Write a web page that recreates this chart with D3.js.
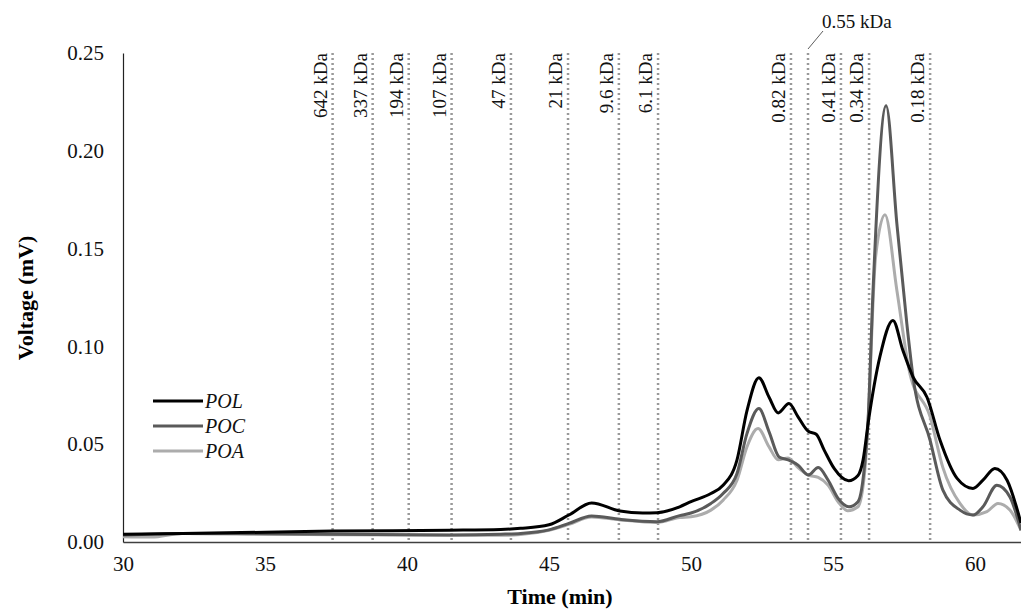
<!DOCTYPE html>
<html>
<head>
<meta charset="utf-8">
<script src="https://cdn.jsdelivr.net/npm/d3@7"></script>
<style>
  body { margin: 0; background: #fff; }
  svg { display: block; font-family: "Liberation Serif", "Times New Roman", serif; }
</style>
</head>
<body>
<div id="chart"></div>
<script>
// Time (min) / Voltage (mV) pairs
const polTime = [30.0, 32.1, 35.0, 37.4, 41.5, 43.3, 44.0, 45.0, 45.7, 46.5, 47.5, 48.3, 48.8, 49.6, 50.0, 50.7, 51.13, 51.62, 51.97, 52.39, 52.75, 53.07, 53.45, 53.77, 54.13, 54.41, 54.69, 55.04, 55.55, 55.88, 56.06, 56.25, 56.65, 57.11, 57.46, 57.82, 58.31, 58.77, 59.37, 59.93, 60.28, 60.7, 61.13, 61.62];
const polVolt = [0.0040, 0.0044, 0.0050, 0.0056, 0.0060, 0.0064, 0.0070, 0.0088, 0.0138, 0.0200, 0.0158, 0.0148, 0.0150, 0.0180, 0.0206, 0.0248, 0.0290, 0.0420, 0.0670, 0.0840, 0.0740, 0.0660, 0.0708, 0.0640, 0.0566, 0.0551, 0.0470, 0.0376, 0.0313, 0.0340, 0.0420, 0.0620, 0.0946, 0.1133, 0.0980, 0.0843, 0.0740, 0.0520, 0.0325, 0.0274, 0.0316, 0.0376, 0.0316, 0.0097];

const pocTime = [30.0, 32.1, 35.0, 37.4, 41.5, 43.3, 44.0, 45.0, 45.7, 46.5, 47.5, 48.8, 49.6, 50.0, 50.7, 51.13, 51.62, 51.97, 52.39, 52.75, 53.1, 53.45, 53.77, 54.13, 54.48, 54.83, 55.18, 55.56, 55.88, 56.13, 56.23, 56.41, 56.87, 57.25, 57.6, 57.82, 58.42, 58.87, 59.47, 59.93, 60.28, 60.77, 61.23, 61.62];
const pocVolt = [0.0036, 0.0044, 0.0042, 0.0040, 0.0036, 0.0040, 0.0044, 0.0062, 0.0095, 0.0133, 0.0116, 0.0104, 0.0135, 0.0148, 0.0197, 0.0248, 0.0350, 0.0554, 0.0682, 0.0563, 0.0435, 0.0418, 0.0393, 0.0342, 0.0381, 0.0316, 0.0223, 0.0180, 0.0206, 0.0420, 0.0607, 0.1286, 0.2230, 0.1626, 0.1116, 0.0843, 0.0520, 0.0265, 0.0163, 0.0138, 0.0180, 0.0290, 0.0230, 0.0060];

const poaTime = [30.0, 31.0, 32.1, 35.0, 37.4, 41.5, 43.3, 44.0, 45.0, 45.7, 46.5, 47.5, 48.8, 49.6, 50.0, 50.7, 51.13, 51.62, 51.97, 52.36, 52.75, 53.07, 53.42, 53.77, 54.13, 54.48, 54.83, 55.18, 55.52, 55.88, 56.13, 56.23, 56.5, 56.83, 57.25, 57.71, 58.42, 58.87, 59.47, 59.93, 60.42, 60.81, 61.23, 61.62];
const poaVolt = [0.0027, 0.0025, 0.0044, 0.0040, 0.0037, 0.0034, 0.0034, 0.0038, 0.0060, 0.0090, 0.0128, 0.0113, 0.0100, 0.0125, 0.0129, 0.0163, 0.0214, 0.0316, 0.0486, 0.0580, 0.0486, 0.0420, 0.0430, 0.0380, 0.0342, 0.0330, 0.0290, 0.0206, 0.0160, 0.0180, 0.0380, 0.0600, 0.1456, 0.1673, 0.1286, 0.0860, 0.0640, 0.0380, 0.0197, 0.0138, 0.0155, 0.0197, 0.0163, 0.0060];

// molecular weight markers
const markerLabels = ['642 kDa', '337 kDa', '194 kDa', '107 kDa', '47 kDa', '21 kDa', '9.6 kDa', '6.1 kDa', '0.82 kDa', '0.55 kDa', '0.41 kDa', '0.34 kDa', '0.18 kDa'];
const markerTimes = [37.38, 38.79, 40.06, 41.57, 43.66, 45.67, 47.46, 48.84, 53.52, 54.12, 55.28, 56.27, 58.42];

const xTicks = [30, 35, 40, 45, 50, 55, 60];
const yTicks = [0, 0.05, 0.10, 0.15, 0.20, 0.25];

const seriesNames = ['POL', 'POC', 'POA'];
const seriesColors = ['#000000', '#5a5a5a', '#acacac'];

const series = [
    polTime.map((t, i) => ({ t, v: polVolt[i] })),
    pocTime.map((t, i) => ({ t, v: pocVolt[i] })),
    poaTime.map((t, i) => ({ t, v: poaVolt[i] }))
];

const width = 1021, height = 609;
const svg = d3.select('#chart').append('svg')
    .attr('width', width)
    .attr('height', height);

const x = d3.scaleLinear().domain([30, 61.62]).range([123, 1021]);
const y = d3.scaleLinear().domain([0, 0.25]).range([542, 53]);

// marker lines
svg.append('g').selectAll('line')
    .data(markerTimes)
    .join('line')
    .attr('x1', d => x(d)).attr('x2', d => x(d))
    .attr('y1', y(0.25)).attr('y2', y(0))
    .attr('stroke', '#999')
    .attr('stroke-width', 2.5)
    .attr('stroke-dasharray', '2,3');

// marker labels (0.55 kDa sits above, with a leader)
svg.append('g').selectAll('text')
    .data(markerTimes.map((t, i) => ({ t, label: markerLabels[i] })).filter(d => d.label !== '0.55 kDa'))
    .join('text')
    .attr('transform', d => `translate(${x(d.t) - 6},${y(0.25)}) rotate(-90)`)
    .attr('text-anchor', 'end')
    .attr('font-size', 19)
    .attr('fill', '#111')
    .text(d => d.label);

const t055 = markerTimes[markerLabels.indexOf('0.55 kDa')];
svg.append('line')
    .attr('x1', x(t055)).attr('y1', 49)
    .attr('x2', x(t055) + 15).attr('y2', 31)
    .attr('stroke', '#333').attr('stroke-width', 0.8);
svg.append('text')
    .attr('x', x(t055) + 14).attr('y', 28)
    .attr('font-size', 19)
    .attr('fill', '#111')
    .text('0.55 kDa');

// axes
const xAxis = svg.append('g')
    .attr('transform', `translate(0,${y(0)})`)
    .call(d3.axisBottom(x).tickValues(xTicks).tickSize(0).tickPadding(14).tickFormat(d3.format('d')));
xAxis.select('.domain').attr('stroke', '#404040').attr('stroke-width', 1.5);
xAxis.selectAll('text').attr('font-size', 21).attr('font-family', '"Liberation Serif", serif').attr('fill', '#111');

const yAxis = svg.append('g')
    .attr('transform', `translate(${x(30)},0)`)
    .call(d3.axisLeft(y).tickValues(yTicks).tickSize(0).tickPadding(19).tickFormat(d3.format('.2f')));
yAxis.select('.domain').attr('stroke', '#222').attr('stroke-width', 1.2);
yAxis.selectAll('text').attr('font-size', 21).attr('font-family', '"Liberation Serif", serif').attr('fill', '#111');

// series
const line = d3.line()
    .x(d => x(d.t))
    .y(d => y(d.v))
    .curve(d3.curveMonotoneX);

[2, 1, 0].forEach(i => {
    svg.append('path')
        .datum(series[i])
        .attr('fill', 'none')
        .attr('stroke', seriesColors[i])
        .attr('stroke-width', 3)
        .attr('stroke-linejoin', 'round')
        .attr('d', line);
});

// legend
const legendY = [401, 426, 451];
seriesNames.forEach((name, i) => {
    svg.append('line')
        .attr('x1', 153).attr('x2', 203)
        .attr('y1', legendY[i]).attr('y2', legendY[i])
        .attr('stroke', seriesColors[i])
        .attr('stroke-width', 3);
    svg.append('text')
        .attr('x', 205).attr('y', legendY[i] + 7)
        .attr('font-size', 20)
        .attr('font-style', 'italic')
        .attr('fill', '#111')
        .text(name);
});

// titles
svg.append('text')
    .attr('x', 560).attr('y', 604)
    .attr('text-anchor', 'middle')
    .attr('font-size', 22)
    .attr('font-weight', 'bold')
    .text('Time (min)');

svg.append('text')
    .attr('transform', 'translate(33,298) rotate(-90)')
    .attr('text-anchor', 'middle')
    .attr('font-size', 22)
    .attr('font-weight', 'bold')
    .text('Voltage (mV)');
</script>
</body>
</html>
